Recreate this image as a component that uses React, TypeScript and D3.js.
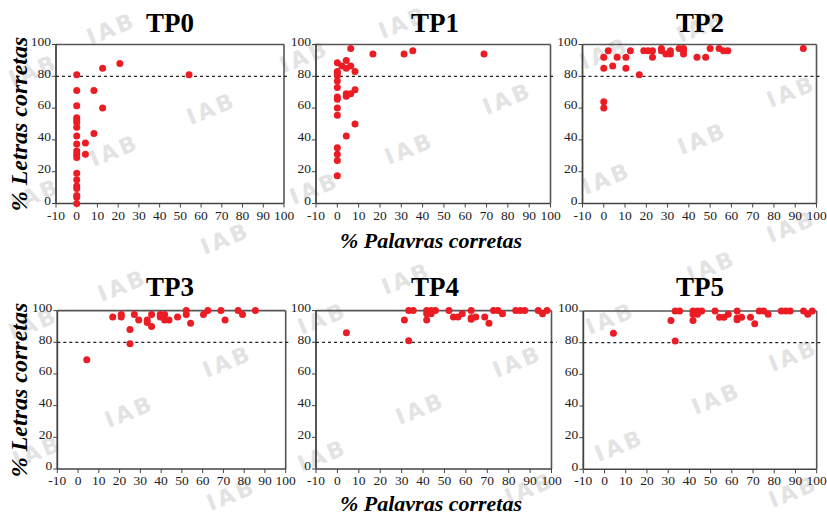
import React from "react";
import * as d3 from "d3";

// ---------- data ----------
const panelTitles = ["TP0", "TP1", "TP2", "TP3", "TP4", "TP5"];
const xTickValues = [-10, 0, 10, 20, 30, 40, 50, 60, 70, 80, 90, 100];
const yTickValues = [0, 20, 40, 60, 80, 100];
const criterion = 80;
const yLabel = "% Letras corretas";
const xLabel = "% Palavras corretas";
const watermarkText = "IAB";

const tp0X = [0, 0, 0, 0, 0, 0, 0, 0, 0, 0, 0, 0, 0, 0, 0, 0, 0, 0, 0, 4.2, 4.2, 8.3, 8.3, 12.5, 12.5, 20.8, 54.2];
const tp0Y = [81, 71, 61.5, 54, 52.5, 51, 48, 42.5, 37.5, 33, 31, 29, 19, 15, 11, 9.5, 5, 4, 0, 38, 31, 71, 44, 85, 60, 88, 81];

const tp1X = [0, 0, 0, 0, 0, 0, 0, 0, 0, 0, 0, 0, 0, 0, 2.1, 4.2, 4.2, 6.3, 6.3, 8.3, 4.2, 4.2, 6.3, 8.3, 8.3, 4.2, 16.7, 31.3, 35.4, 68.8];
const tp1Y = [88.5, 83, 82, 80.5, 77, 73, 67, 65.5, 60, 55.5, 35, 31, 27, 17.5, 86.5, 90, 85, 97.5, 86.5, 83, 69, 67.5, 69, 71.5, 50, 42.5, 94, 94, 96, 94];

const tp2X = [0, 0, 0, 0, 2.1, 4.2, 6.3, 10.4, 10.4, 12.5, 16.7, 18.8, 20.8, 22.9, 22.9, 27.1, 27.1, 29.2, 31.3, 31.3, 35.4, 37.5, 37.5, 37.5, 43.8, 47.9, 50, 54.2, 56.3, 58.3, 93.8];
const tp2Y = [92, 85, 64, 60, 96, 86.5, 92, 92, 85, 96, 81, 96, 96, 96, 92, 97.5, 96, 94, 96, 94, 97.5, 97.5, 96, 94, 92, 92, 97.5, 97.5, 96, 96, 97.5];

const tp3X = [4.2, 16.7, 20.8, 20.8, 25, 25, 27.1, 29.2, 33.3, 33.3, 35.4, 35.4, 39.6, 39.6, 41.7, 41.7, 43.8, 47.9, 52.1, 52.1, 54.2, 60.4, 62.5, 68.8, 70.8, 77.1, 79.2, 85.4];
const tp3Y = [69, 96, 97.5, 96, 88, 79, 97.5, 94, 94, 92.5, 97.5, 90, 97.5, 96, 97.5, 94, 94, 96, 100, 97.5, 92, 97.5, 100, 100, 94, 100, 97.5, 100];

const tp4X = [4.2, 31.3, 33.3, 33.3, 35.4, 41.7, 41.7, 41.7, 43.8, 43.8, 45.8, 52.1, 54.2, 56.3, 58.3, 62.5, 62.5, 62.5, 64.6, 68.8, 70.8, 72.9, 75, 77.1, 83.3, 85.4, 87.5, 93.8, 95.8, 97.9];
const tp4Y = [86, 94, 81, 100, 100, 100, 98, 94, 100, 98, 100, 100, 96, 96, 98, 100, 95.5, 94.5, 96, 96, 92, 100, 100, 98, 100, 100, 100, 100, 98, 100];

const tp5X = [4.2, 31.3, 33.3, 33.3, 35.4, 41.7, 41.7, 41.7, 43.8, 43.8, 45.8, 52.1, 54.2, 56.3, 58.3, 62.5, 62.5, 62.5, 64.6, 68.8, 70.8, 72.9, 75, 77.1, 83.3, 85.4, 87.5, 93.8, 95.8, 97.9];
const tp5Y = [86, 94, 81, 100, 100, 100, 98, 94, 100, 98, 100, 100, 96, 96, 98, 100, 95.5, 94.5, 96, 96, 92, 100, 100, 98, 100, 100, 100, 100, 98, 100];

const seriesX = [tp0X, tp1X, tp2X, tp3X, tp4X, tp5X];
const seriesY = [tp0Y, tp1Y, tp2Y, tp3Y, tp4Y, tp5Y];

// ---------- layout ----------
const W = 827;
const H = 517;
const panelBoxes = [
  { l: 56, r: 284, t: 44.5, b: 203.5 },
  { l: 316, r: 550.5, t: 44.5, b: 203.5 },
  { l: 582.5, r: 816.5, t: 44.5, b: 203.5 },
  { l: 57.3, r: 285.7, t: 310.6, b: 469 },
  { l: 316, r: 551.5, t: 310.6, b: 469 },
  { l: 583.3, r: 816.7, t: 311, b: 469.3 },
];
const titleBaselines = [32, 32, 32, 296, 296, 296];
const titleCenters = [170, 435, 700, 170, 435, 700];

const watermarks = [
  [112, 30], [34, 72], [212, 110], [115, 152], [36, 196], [226, 240],
  [404, 24], [305, 58], [410, 150], [315, 190], [508, 100],
  [702, 28], [605, 55], [792, 93], [703, 140], [607, 180], [792, 228],
  [123, 287], [34, 325], [228, 363], [130, 413], [38, 453], [232, 496],
  [407, 280], [323, 320], [518, 363], [421, 410], [323, 457], [530, 490],
  [712, 268], [611, 320], [794, 357], [717, 400], [620, 447], [794, 493],
];

const serif = "Liberation Serif, DejaVu Serif, serif";

function Panel({ idx }: { idx: number }) {
  const box = panelBoxes[idx];
  const x = d3.scaleLinear().domain([-10, 100]).range([box.l, box.r]);
  const y = d3.scaleLinear().domain([0, 100]).range([box.b, box.t]);
  const xs = seriesX[idx];
  const ys = seriesY[idx];
  const axisColor = "#555";
  return (
    <g>
      <line x1={box.l} x2={box.r} y1={box.t} y2={box.t} stroke={axisColor} strokeWidth={1.6} />
      <line x1={box.r} x2={box.r} y1={box.t} y2={box.b} stroke={axisColor} strokeWidth={1.6} />
      <line x1={box.l} x2={box.l} y1={box.t} y2={box.b} stroke="#444" strokeWidth={1.8} />
      <line x1={box.l} x2={box.r} y1={box.b} y2={box.b} stroke="#444" strokeWidth={1.6} />
      <line
        x1={box.l}
        x2={box.r + 5}
        y1={y(criterion)}
        y2={y(criterion)}
        stroke="#222"
        strokeWidth={1.2}
        strokeDasharray="3,3"
      />
      {xTickValues.map((v) => (
        <g key={"xt" + v}>
          <line x1={x(v)} x2={x(v)} y1={box.b} y2={box.b + 4} stroke="#444" strokeWidth={1} />
          <text
            x={x(v)}
            y={box.b + 16}
            textAnchor="middle"
            style={{ fontFamily: serif, fontSize: "13.5px" }}
            fill="#222"
          >
            {v}
          </text>
        </g>
      ))}
      {yTickValues.map((v) => (
        <g key={"yt" + v}>
          <line x1={box.l - 4} x2={box.l} y1={y(v)} y2={y(v)} stroke="#444" strokeWidth={1} />
          <text
            x={box.l - 5}
            y={y(v)}
            dy="0.1em"
            textAnchor="end"
            style={{ fontFamily: serif, fontSize: "13.5px" }}
            fill="#222"
          >
            {v}
          </text>
        </g>
      ))}
      {xs.map((xv, i) => (
        <circle key={"p" + i} cx={x(xv)} cy={y(ys[i])} r={3.5} fill="#ec1c24" />
      ))}
      <text
        x={titleCenters[idx]}
        y={titleBaselines[idx]}
        textAnchor="middle"
        style={{ fontFamily: serif, fontWeight: "bold", fontSize: "27px" }}
        fill="#000"
      >
        {panelTitles[idx]}
      </text>
    </g>
  );
}

export default function App() {
  return (
    <svg
      width={W}
      height={H}
      style={{ position: "absolute", left: 0, top: 0, background: "#fff" }}
    >
      <rect x={0} y={0} width={W} height={H} fill="#fff" />
      {watermarks.map(([wx, wy], i) => (
        <text
          key={"wm" + i}
          x={wx}
          y={wy}
          textAnchor="middle"
          dominantBaseline="middle"
          transform={`rotate(-22 ${wx} ${wy})`}
          style={{ fontFamily: "DejaVu Sans, sans-serif", fontWeight: "bold", fontSize: "22px", letterSpacing: "3px" }}
          fill="#e3e3e3"
        >
          {watermarkText}
        </text>
      ))}
      {panelTitles.map((_, i) => (
        <Panel key={i} idx={i} />
      ))}
      {[124, 390].map((cy, i) => (
        <text
          key={"yl" + i}
          transform={`translate(27 ${cy}) rotate(-90)`}
          textAnchor="middle"
          style={{ fontFamily: serif, fontWeight: "bold", fontStyle: "italic", fontSize: "24px" }}
          fill="#000"
        >
          {yLabel}
        </text>
      ))}
      {[248, 511].map((by, i) => (
        <text
          key={"xl" + i}
          x={431}
          y={by}
          textAnchor="middle"
          style={{ fontFamily: serif, fontWeight: "bold", fontStyle: "italic", fontSize: "22px" }}
          fill="#000"
        >
          {xLabel}
        </text>
      ))}
    </svg>
  );
}
